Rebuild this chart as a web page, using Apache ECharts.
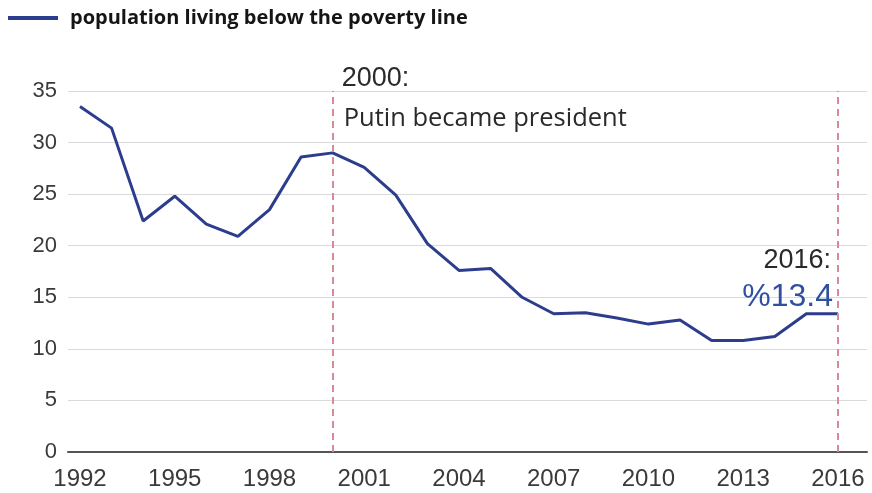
<!DOCTYPE html>
<html>
<head>
<meta charset="utf-8">
<script src="https://cdn.jsdelivr.net/npm/echarts@6/dist/echarts.min.js"></script>
<style>
  html, body { margin: 0; padding: 0; background: #fff; }
  #chart { width: 872px; height: 493px; }
</style>
</head>
<body>
<div id="chart"></div>
<script>
// Share of the population living below the poverty line, by year (%)
const years = [1992, 1993, 1994, 1995, 1996, 1997, 1998, 1999, 2000, 2001, 2002, 2003,
               2004, 2005, 2006, 2007, 2008, 2009, 2010, 2011, 2012, 2013, 2014, 2015, 2016];
const povertyShare = [33.5, 31.4, 22.4, 24.8, 22.1, 20.9, 23.5, 28.6, 29.0, 27.6, 24.9, 20.2,
                      17.6, 17.8, 15.0, 13.4, 13.5, 13.0, 12.4, 12.8, 10.8, 10.8, 11.2, 13.4, 13.4];
const yearTicks = [1992, 1995, 1998, 2001, 2004, 2007, 2010, 2013, 2016];
const markerYears = [2000, 2016];
const seriesName = 'population living below the poverty line';

const chart = echarts.init(document.getElementById('chart'), null, { renderer: 'canvas' });

const option = {
  backgroundColor: '#ffffff',
  animation: false,
  legend: {
    left: 8,
    top: 8,
    padding: 0,
    icon: 'rect',
    itemWidth: 50,
    itemHeight: 4,
    itemGap: 0,
    textStyle: {
      fontFamily: 'Open Sans',
      fontWeight: 'bold',
      fontSize: 20,
      color: '#151515',
      padding: [0, 0, 0, 7]
    },
    data: [seriesName]
  },
  grid: { left: 68, right: 5, top: 91, bottom: 41 },
  xAxis: {
    type: 'value',
    min: 1991.62,
    max: 2016.92,
    splitLine: { show: false },
    axisTick: { show: false },
    axisLine: { show: true, lineStyle: { color: '#555555', width: 2 } },
    axisLabel: {
      customValues: yearTicks,
      fontFamily: 'Liberation Sans',
      fontSize: 24,
      color: '#3a3a3a',
      margin: 15,
      formatter: v => String(v)
    }
  },
  yAxis: {
    type: 'value',
    min: 0,
    max: 35,
    interval: 5,
    axisLine: { show: false },
    axisTick: { show: false },
    splitLine: { lineStyle: { color: '#dadada', width: 1.2 } },
    axisLabel: {
      fontFamily: 'Liberation Sans',
      fontSize: 22,
      color: '#3a3a3a',
      margin: 11
    }
  },
  series: [{
    name: seriesName,
    type: 'line',
    data: years.map((y, i) => [y, povertyShare[i]]),
    symbol: 'none',
    color: '#2c3d8d',
    lineStyle: { color: '#2c3d8d', width: 3 },
    markLine: {
      silent: true,
      symbol: 'none',
      label: { show: false },
      lineStyle: { color: '#d88a98', width: 2, type: [7, 5] },
      data: markerYears.map(y => ({ xAxis: y }))
    },
    z: 3
  }]
};

chart.setOption(option);

// Annotation texts anchored to the marker years
const top2000 = chart.convertToPixel({ gridIndex: 0 }, [2000, 35]);
const top2016 = chart.convertToPixel({ gridIndex: 0 }, [2016, 15]);
const lastValue = povertyShare[povertyShare.length - 1];

chart.setOption({
  graphic: [
    {
      type: 'text',
      x: top2000[0] + 9,
      y: top2000[1] - 26,
      style: { text: '2000:', font: '27px "Liberation Sans"', fill: '#2a2a2a' }
    },
    {
      type: 'text',
      x: top2000[0] + 11,
      y: top2000[1] + 15,
      style: { text: 'Putin became president', font: '25.5px "Open Sans"', fill: '#2a2a2a' }
    },
    {
      type: 'text',
      x: top2016[0] - 7,
      y: top2016[1] - 50,
      style: { text: '2016:', font: '27px "Liberation Sans"', fill: '#2a2a2a', align: 'right' }
    },
    {
      type: 'text',
      x: top2016[0] - 5,
      y: top2016[1] - 16,
      style: { text: '%' + lastValue.toFixed(1), font: '32px "Liberation Sans"', fill: '#2f4f9f', align: 'right' }
    }
  ]
});
</script>
</body>
</html>
